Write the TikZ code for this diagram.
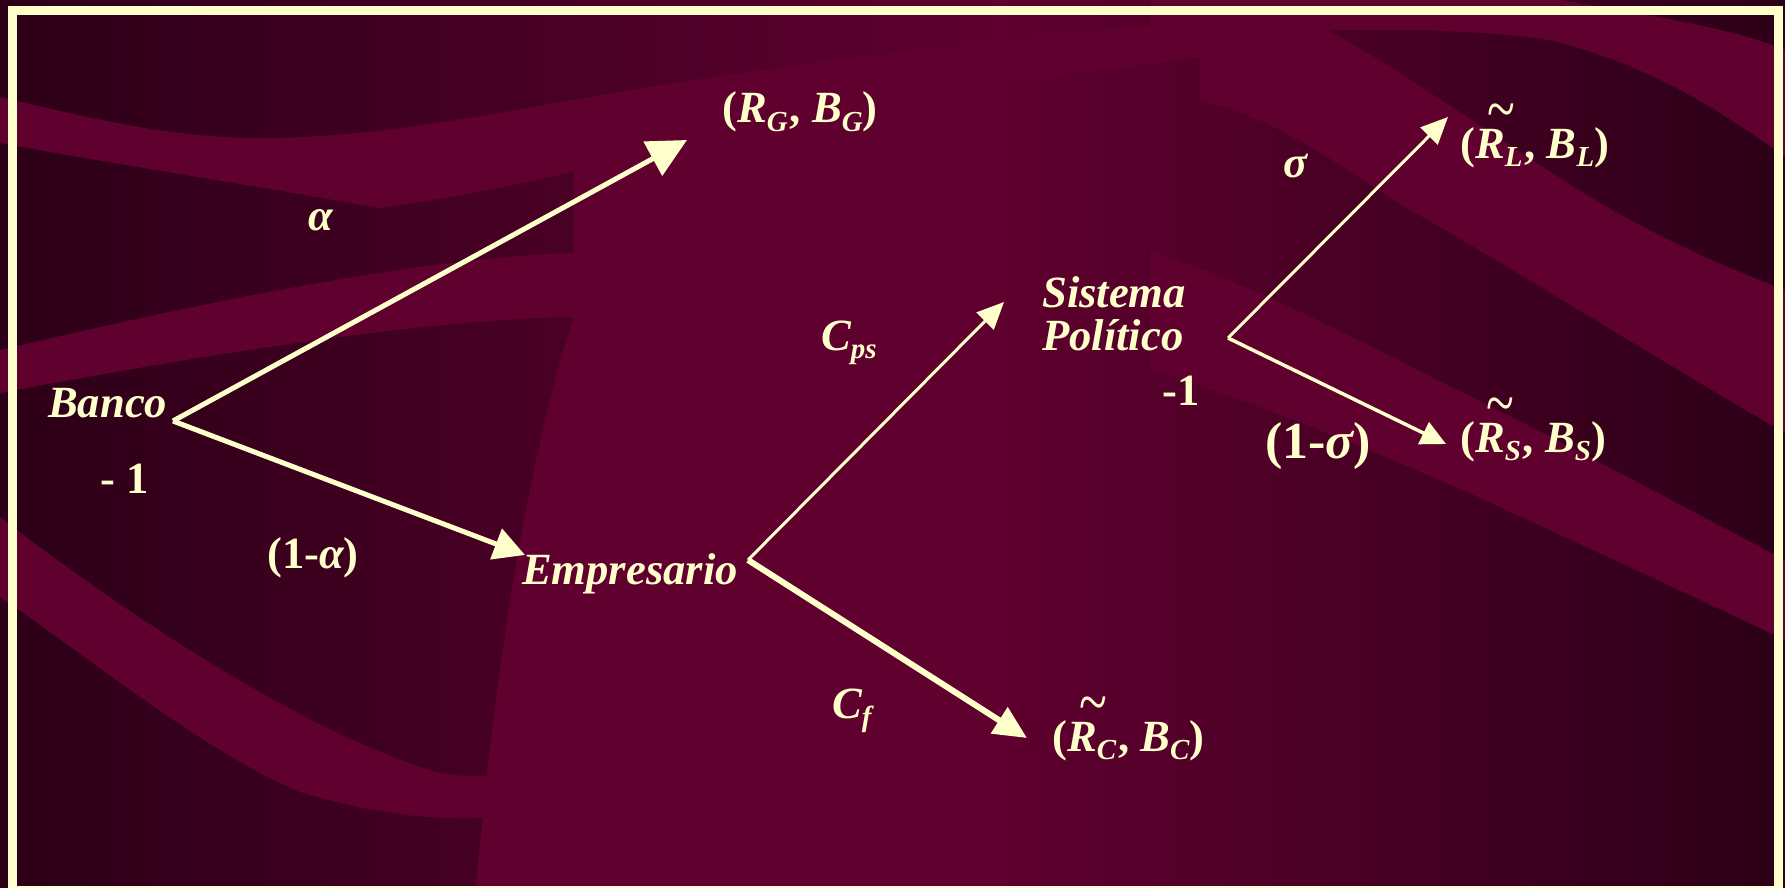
\documentclass[tikz,border=0pt]{standalone}
\usepackage{fontspec}
\setmainfont{Liberation Serif}
\usetikzlibrary{arrows.meta}
\definecolor{cream}{HTML}{FFFFCC}
\definecolor{bgdark}{HTML}{2C0017}
\definecolor{bgmid}{HTML}{5F002F}
\definecolor{band}{HTML}{5F002F}
\pgfdeclarehorizontalshading{bgsh}{100bp}{color(0bp)=(bgdark); color(25bp)=(bgdark); color(53bp)=(bgmid); color(75bp)=(bgdark); color(100bp)=(bgdark)}
\makeatletter
\newcommand{\sbs}[2][0.65]{\edef\sbssize{\fpeval{#1*\f@size}}\raisebox{-0.18em}{\fontsize{\sbssize}{1}\selectfont #2}}
\makeatother
\newsavebox\tldbox
\newcommand{\tld}[1]{\sbox\tldbox{#1}\makebox[0pt][l]{\makebox[\wd\tldbox][c]{\hspace{0.1em}\raisebox{0.6em}{\mdseries\upshape\scalebox{1.15}[1.5]{\textasciitilde}}}}\usebox\tldbox}
\newcommand{\up}[1]{{\upshape #1}}
\tikzset{
  lbl/.style={text=cream, inner sep=0pt, font=\fontsize{44.6}{50}\selectfont\bfseries\itshape},
  biglbl/.style={lbl, font=\fontsize{52}{58}\selectfont\bfseries\itshape},
  arrA/.style={draw=cream, line width=5pt, -{Triangle[length=39pt,width=38pt]}},
  arrB/.style={draw=cream, line width=5pt, -{Triangle[length=31pt,width=32pt]}},
  arrC/.style={draw=cream, line width=6pt, -{Triangle[length=33pt,width=30pt]}},
  arrD/.style={draw=cream, line width=3pt, -{Triangle[length=27pt,width=24pt]}},
  arrE/.style={draw=cream, line width=3.5pt, -{Triangle[length=25pt,width=24pt]}},
  bandfill/.style={fill=band}
}
\begin{document}
\begin{tikzpicture}[x=1pt,y=-1pt]
\useasboundingbox (0,0) rectangle (1785,888);
% background
\shade[shading=bgsh] (0,0) rectangle (1785,888);
% band C (lower-left swoosh)
\fill[bandfill] (0,517) .. controls (120,610) and (300,730) .. (430,770) .. controls (470,782) and (520,775) .. (560,760) -- (560,808) .. controls (480,825) and (400,822) .. (300,792) .. controls (200,750) and (80,650) .. (0,597) -- cycle;
% band B (middle-left)
\fill[bandfill] (0,350) .. controls (150,315) and (400,258) .. (574,253) .. controls (700,250) and (800,275) .. (900,330) -- (900,420) .. controls (800,350) and (700,320) .. (574,317) .. controls (400,320) and (150,365) .. (0,393) -- cycle;
% lighter central region
\fill[bandfill] (574,160) -- (574,317) .. controls (545,400) and (500,600) .. (476,888) -- (1000,888) -- (1000,60) -- cycle;
% band A (top-left)
\fill[bandfill] (0,97) .. controls (90,118) and (170,138) .. (260,138) .. controls (380,138) and (500,112) .. (620,92) .. controls (800,62) and (1050,30) .. (1330,12) -- (1330,45) .. controls (1050,70) and (800,110) .. (600,165) .. controls (520,185) and (440,200) .. (380,208) .. controls (250,185) and (120,165) .. (0,143) -- cycle;
% right-side light bands
\fill[bandfill] (1150,0) -- (1560,0) .. controls (1650,15) and (1740,30) .. (1785,50) -- (1785,157) .. controls (1720,110) and (1650,65) .. (1550,40) .. controls (1450,25) and (1300,28) .. (1150,40) -- cycle;
\fill[bandfill] (1200,30) -- (1333,33) .. controls (1400,70) and (1500,140) .. (1574,187) .. controls (1650,235) and (1720,265) .. (1785,290) -- (1785,433) .. controls (1650,355) and (1500,260) .. (1410,210) .. controls (1330,160) and (1280,120) .. (1200,100) -- cycle;
\fill[bandfill] (1150,250) .. controls (1250,285) and (1350,335) .. (1437,380) .. controls (1550,435) and (1680,505) .. (1785,560) -- (1785,640) .. controls (1680,590) and (1560,535) .. (1463,490) .. controls (1380,455) and (1280,410) .. (1150,370) -- cycle;
% frame
\draw[cream, line width=9pt] (12.5,10.5) rectangle (1778.5,890.5);
% labels
\node[lbl, anchor=base west] (banco) at (48,417) {Banco};
\node[lbl, anchor=base west] (bm1) at (100,493) {\up{- 1}};
\node[lbl, anchor=base] (alpha) at (321,230) {α};
\node[lbl, anchor=base west] (oma) at (267,568) {\up{(1-}α\up{)}};
\node[lbl, anchor=base west] (emp) at (522,584) {Empresario};
\node[lbl, anchor=base west] (rg) at (722,123) {\up{(}R\sbs{G}\kern2pt\up{,} B\sbs{G}\up{)}};
\node[lbl, anchor=base west] (cps) at (821,350) {C\sbs{ps}};
\node[lbl, anchor=base west] (sis) at (1042,307) {Sistema};
\node[lbl, anchor=base west] (pol) at (1042,350) {Político};
\node[lbl, anchor=base west] (sm1) at (1162,405) {\up{-1}};
\node[lbl, anchor=base] (sigma) at (1296,177) {σ};
\node[biglbl, anchor=base west] (oms) at (1265,458) {\up{(1-}σ\up{)}};
\node[lbl, anchor=base west] (rl) at (1460,158) {\up{(}\tld{R\sbs{L}}\kern2pt\up{,} B\sbs{L}\up{)}};
\node[lbl, anchor=base west] (rs) at (1460,452) {\up{(}\tld{R\sbs{S}}\kern2pt\up{,} B\sbs{S}\up{)}};
\node[lbl, anchor=base west] (rc) at (1052,751) {\up{(}\tld{R\sbs{C}}\kern2pt\up{,} B\sbs{C}\up{)}};
\node[lbl, anchor=base west] (cf) at (832,718) {C\sbs{f}};
% connector points
\coordinate (b0) at (173,421);
\coordinate (e0) at (748,560);
\coordinate (s0) at (1228,338);
\coordinate (trg) at (687,140);
\coordinate (temp) at (525,555);
\coordinate (tsis) at (1004,302);
\coordinate (trc) at (1027,738);
\coordinate (trl) at (1448,117);
\coordinate (trs) at (1446,444);
% arrows
\draw[arrA] (b0) -- (trg);
\draw[arrB] (b0) -- (temp);
\draw[arrD] (e0) -- (tsis);
\draw[arrC] (e0) -- (trc);
\draw[arrD] (s0) -- (trl);
\draw[arrE] (s0) -- (trs);
\end{tikzpicture}
\end{document}
